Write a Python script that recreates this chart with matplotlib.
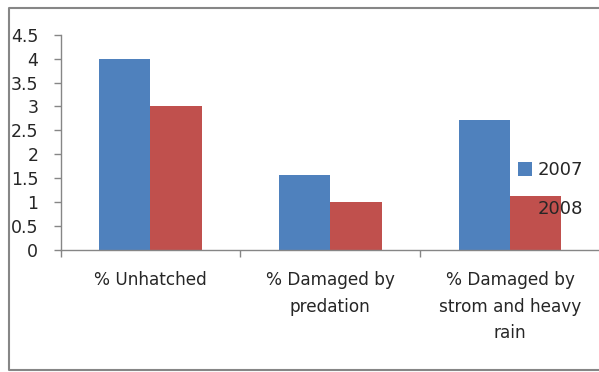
import matplotlib.pyplot as plt
from matplotlib.lines import Line2D
import numpy as np

plt.rcParams['font.family'] = ['DejaVu Sans']

categories = ['% Unhatched', '% Damaged by\npredation', '% Damaged by\nstrom and heavy\nrain']
values_2007 = [4.0, 1.57, 2.72]
values_2008 = [3.0, 1.0, 1.13]
y_ticks = [0, 0.5, 1, 1.5, 2, 2.5, 3, 3.5, 4, 4.5]

blue = '#4F81BD'
red = '#C0504D'
grey = '#868686'
text_col = '#262626'

fig = plt.figure(figsize=(5.99, 3.72), dpi=100)
ax = fig.add_axes([60.5 / 599, 1 - 250 / 372, 539.5 / 599, 215.3 / 372])

# outer chart frame, open on the right (it runs off the picture)
fl, ft, fb = 8.5 / 599, 1 - 7.5 / 372, 1 - 369.5 / 372
fig.add_artist(Line2D([1.05, fl, fl, 1.05], [ft, ft, fb, fb],
                      transform=fig.transFigure, color=grey, linewidth=1.5))

pos = np.arange(len(categories))
w = 0.285
ax.bar(pos - w / 2, values_2007, w, color=blue, label='2007')
ax.bar(pos + w / 2, values_2008, w, color=red, label='2008')

ax.set_xlim(-0.5, 2.5)
ax.set_ylim(0, 4.5)
ax.set_yticks(y_ticks)
ax.set_yticklabels([f'{t:g}' for t in y_ticks], fontsize=12.5, color=text_col)
ax.set_xticks([-0.5, 0.5, 1.5])
ax.set_xticklabels([])
ax.set_xticks(pos, minor=True)
ax.set_xticklabels(categories, minor=True, fontsize=12.2, linespacing=1.62,
                   color=text_col)
ax.tick_params(axis='x', which='minor', length=0, pad=15)
ax.tick_params(axis='x', which='major', length=5, color=grey, width=1)
ax.tick_params(axis='y', length=5, color=grey, width=1, pad=11)

for s in ['top', 'right']:
    ax.spines[s].set_visible(False)
for s in ['left', 'bottom']:
    ax.spines[s].set_color(grey)
    ax.spines[s].set_linewidth(1)

fig.legend(loc='upper left', bbox_to_anchor=(518 / 599, 1 - 161 / 372),
           frameon=False, fontsize=13, handlelength=0.78, handleheight=0.78,
           handletextpad=0.3, labelspacing=1.15, borderpad=0, borderaxespad=0,
           labelcolor=text_col)

plt.savefig('out.png', dpi=100)
